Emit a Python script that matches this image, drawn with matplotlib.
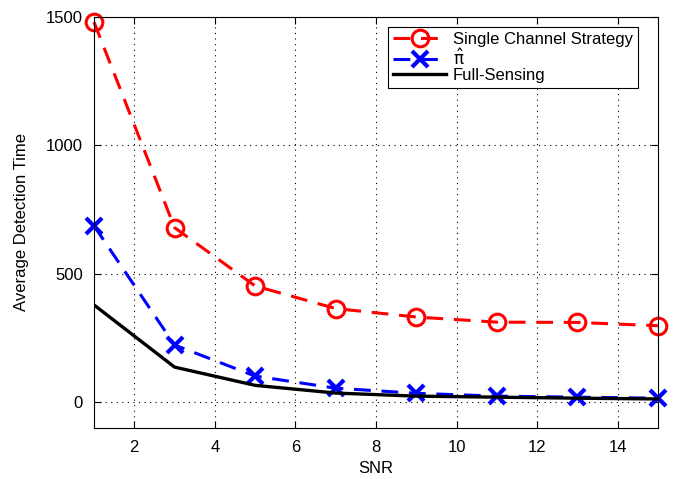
import matplotlib
matplotlib.use('Agg')
import matplotlib.pyplot as plt

plt.rcParams['font.family'] = ['Liberation Sans', 'DejaVu Sans']
plt.rcParams['mathtext.fontset'] = 'dejavusans'

# Data
snr = [1, 3, 5, 7, 9, 11, 13, 15]
single_channel = [1480, 680, 453, 365, 332, 312, 311, 298]
pi_hat = [687, 223, 102, 55, 35, 24, 20, 16]
full_sensing = [379, 137, 66, 36, 24, 20, 16, 13]

fig = plt.figure(figsize=(6.73, 4.79), dpi=100)
ax = fig.add_axes([0.1397, 0.1065, 0.838, 0.858])

ax.plot(snr, single_channel, color='#ff0000', linestyle='--', linewidth=2.2,
        marker='o', markersize=12, markerfacecolor='none', markeredgewidth=2.2,
        dashes=(5.5, 3.5), label='Single Channel Strategy', clip_on=False)
ax.plot(snr, pi_hat, color='#0000ff', linestyle='--', linewidth=2.2,
        marker='x', markersize=11, markeredgewidth=3, dashes=(5.5, 3.5),
        label=r'$\hat{\mathrm{\pi}}$', clip_on=False)
ax.plot(snr, full_sensing, color='black', linewidth=2.4, label='Full-Sensing')

ax.set_xlim(1, 15)
ax.set_ylim(-100, 1500)
ax.set_xticks([2, 4, 6, 8, 10, 12, 14])
ax.set_yticks([0, 500, 1000, 1500])
ax.grid(True, linestyle=(0, (1, 4)), color='black', linewidth=0.8)
ax.tick_params(direction='in', top=True, right=True, labelsize=12, length=5)
ax.tick_params(axis='y', pad=8)
ax.tick_params(axis='x', pad=9)
for s in ax.spines.values():
    s.set_linewidth(0.8)

ax.set_xlabel('SNR', fontsize=12, labelpad=4)
ax.set_ylabel('Average Detection Time', fontsize=12, labelpad=12)

leg = ax.legend(loc='upper right', fontsize=12, frameon=True, fancybox=False,
                edgecolor='black', framealpha=1, handlelength=3.2,
                borderpad=0.3, labelspacing=0.0, handletextpad=0.4,
                borderaxespad=0, bbox_to_anchor=(638 / 673, 1 - 27 / 479),
                bbox_transform=fig.transFigure)
leg.get_frame().set_linewidth(0.8)

fig.savefig('out.png', dpi=100)
